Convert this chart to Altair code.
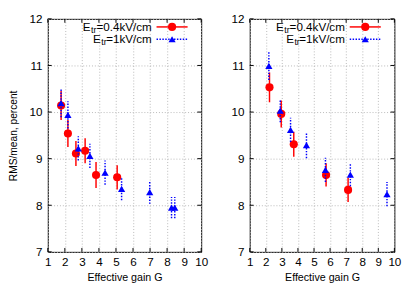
import altair as alt
import pandas as pd

# ---- data ----
# left panel
red_left_x = [1.78, 2.18, 2.65, 3.19, 3.83, 5.07]
red_left_y = [10.14, 9.54, 9.11, 9.17, 8.65, 8.60]
red_left_err = [0.31, 0.29, 0.27, 0.27, 0.28, 0.26]

blue_left_x = [1.78, 2.18, 2.79, 3.47, 4.36, 5.33, 6.98, 8.26, 8.45]
blue_left_y = [10.19, 9.94, 9.22, 9.06, 8.70, 8.35, 8.28, 7.95, 7.95]
blue_left_err = [0.30, 0.29, 0.26, 0.26, 0.26, 0.24, 0.25, 0.23, 0.23]

# right panel
red_right_x = [2.23, 2.96, 3.74, 5.75, 7.12]
red_right_y = [10.53, 9.96, 9.31, 8.65, 8.33]
red_right_err = [0.32, 0.29, 0.27, 0.25, 0.26]

blue_right_x = [2.19, 2.90, 3.54, 4.53, 5.71, 7.26, 9.54]
blue_right_y = [10.99, 10.03, 9.62, 9.29, 8.76, 8.66, 8.24]
blue_right_err = [0.30, 0.25, 0.26, 0.28, 0.26, 0.25, 0.26]

x_ticks = [1, 2, 3, 4, 5, 6, 7, 8, 9, 10]
y_ticks = [7, 8, 9, 10, 11, 12]

legend_red = ["E", "tr", "=0.4kV/cm"]
legend_blue = ["E", "tr", "=1kV/cm"]

FONT = "Liberation Sans"
RED = "#ff0000"
BLUE = "#0000ff"
H = 240


def frame(xs, ys, es):
    return pd.DataFrame({
        "x": xs, "y": ys,
        "lo": [a - b for a, b in zip(ys, es)],
        "hi": [a + b for a, b in zip(ys, es)],
    })


def panel(W, rx, ry, re, bx, by, be, ytitle):
    xs = alt.Scale(domain=[1, 10], nice=False, zero=False)
    ys = alt.Scale(domain=[7, 12], nice=False, zero=False)
    red = frame(rx, ry, re)
    blue = frame(bx, by, be)

    xax = alt.Axis(values=x_ticks, format="d", title="Effective gain G",
                   labelOverlap=False)
    yax = alt.Axis(values=y_ticks, format="d", title=ytitle,
                   labelOverlap=False)

    base_red = alt.Chart(red)
    errs_red = base_red.mark_rule(color=RED, strokeWidth=1.5).encode(
        x=alt.X("x:Q", scale=xs, axis=xax),
        y=alt.Y("lo:Q", scale=ys, axis=yax),
        y2="hi:Q",
    )
    pts_red = base_red.mark_point(shape="circle", filled=True, opacity=1,
                                  color=RED, size=70).encode(
        x=alt.X("x:Q", scale=xs, axis=xax), y=alt.Y("y:Q", scale=ys, axis=yax))

    base_blue = alt.Chart(blue)
    errs_blue = base_blue.mark_rule(color=BLUE, strokeWidth=1.5,
                                    strokeDash=[1.5, 1.5]).encode(
        x=alt.X("x:Q", scale=xs, axis=xax), y=alt.Y("lo:Q", scale=ys, axis=yax), y2="hi:Q")
    pts_blue = base_blue.mark_point(shape="triangle-up", filled=True, opacity=1,
                                    color=BLUE, size=55).encode(
        x=alt.X("x:Q", scale=xs, axis=xax), y=alt.Y("y:Q", scale=ys, axis=yax))

    xt = alt.Chart(pd.DataFrame({"t": x_ticks}))
    yt = alt.Chart(pd.DataFrame({"t": y_ticks}))
    tick_b = xt.mark_rule(color="black", strokeWidth=1).encode(
        x=alt.X("t:Q", scale=xs, axis=xax), y=alt.value(H), y2=alt.value(H - 4))
    tick_t = xt.mark_rule(color="black", strokeWidth=1).encode(
        x=alt.X("t:Q", scale=xs, axis=xax), y=alt.value(0), y2=alt.value(4))
    tick_l = yt.mark_rule(color="black", strokeWidth=1).encode(
        y=alt.Y("t:Q", scale=ys, axis=yax), x=alt.value(0), x2=alt.value(4))
    tick_r = yt.mark_rule(color="black", strokeWidth=1).encode(
        y=alt.Y("t:Q", scale=ys, axis=yax), x=alt.value(W), x2=alt.value(W - 4))

    one = alt.Chart(alt.Data(values=[{"k": 1}]))
    tx = W - 51
    r1, r2 = 8.3, 21
    legend = []
    for (parts, row) in ((legend_red, r1), (legend_blue, r2)):
        e, sub, rest = parts
        rest_w = 57.5 if rest.startswith("=0") else 47
        legend.append(one.mark_text(align="right", baseline="middle", font=FONT,
                                    fontSize=12, color="black").encode(
            x=alt.value(tx), y=alt.value(row), text=alt.value(rest)))
        legend.append(one.mark_text(align="right", baseline="middle", font=FONT,
                                    fontSize=9, color="black").encode(
            x=alt.value(tx - rest_w + 0.5), y=alt.value(row + 3), text=alt.value(sub)))
        legend.append(one.mark_text(align="right", baseline="middle", font=FONT,
                                    fontSize=12, color="black").encode(
            x=alt.value(tx - rest_w - 5.5), y=alt.value(row), text=alt.value(e)))
    legend.append(one.mark_rule(color=RED, strokeWidth=1.5).encode(
        x=alt.value(W - 46), x2=alt.value(W - 14), y=alt.value(r1)))
    legend.append(one.mark_point(shape="circle", filled=True, opacity=1,
                                 color=RED, size=70).encode(
        x=alt.value(W - 30), y=alt.value(r1)))
    legend.append(one.mark_rule(color=BLUE, strokeWidth=1.5, strokeDash=[1.5, 1.5]).encode(
        x=alt.value(W - 46), x2=alt.value(W - 14), y=alt.value(r2)))
    legend.append(one.mark_point(shape="triangle-up", filled=True, opacity=1,
                                 color=BLUE, size=55).encode(
        x=alt.value(W - 30), y=alt.value(r2)))

    return alt.layer(errs_red, tick_b, tick_t, tick_l, tick_r, pts_red,
                     errs_blue, pts_blue, *legend).properties(width=W, height=H)


left = panel(158, red_left_x, red_left_y, red_left_err,
             blue_left_x, blue_left_y, blue_left_err, "RMS/mean, percent")
right = panel(149, red_right_x, red_right_y, red_right_err,
              blue_right_x, blue_right_y, blue_right_err, "")

chart = alt.hconcat(left, right, spacing=22).properties(
    padding={"left": 0, "top": 0, "right": 5, "bottom": 0},
    background="white",
).configure_view(
    stroke="black", strokeWidth=1
).configure_axis(
    labelFont=FONT, titleFont=FONT, labelFontSize=12, titleFontWeight="normal",
    tickSize=0, domain=False, labelColor="black", titleColor="black",
    gridColor="#b8b8b8", gridDash=[1, 2], gridWidth=1,
    labelFlush=False, labelOverlap=False
).configure_axisX(
    titleFontSize=11, labelPadding=5, titlePadding=4
).configure_axisY(
    titleFontSize=10.5, labelPadding=6, titlePadding=11
)

chart.save("out.html", embed_options={"renderer": "svg", "actions": False})
